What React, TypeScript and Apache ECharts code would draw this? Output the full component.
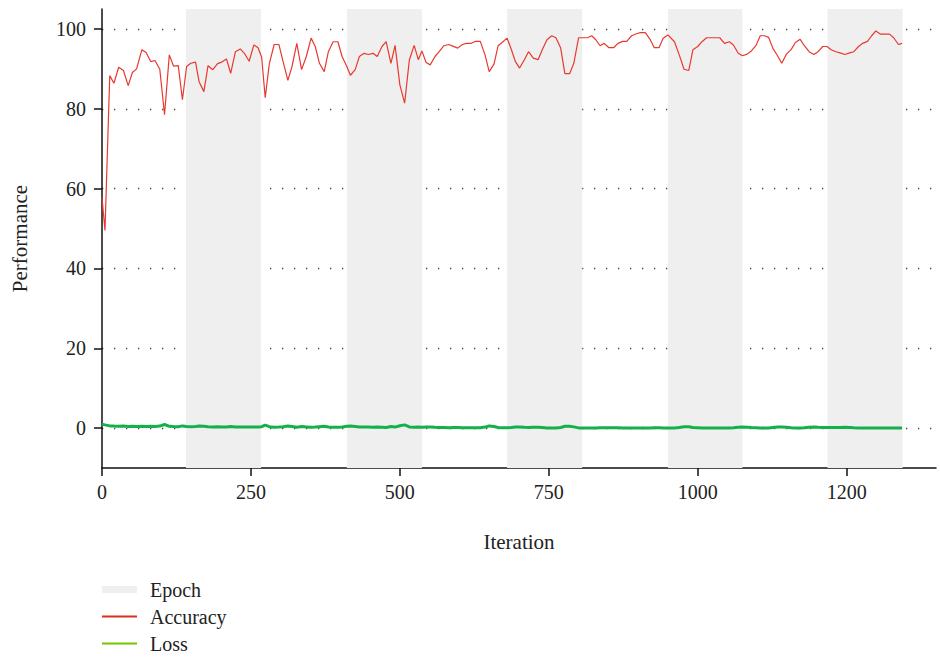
import React, { useEffect, useRef } from 'react';
import * as echarts from 'echarts';

const iterations = [
  0, 5, 13, 20, 28, 36, 44, 51, 58, 67,
  74, 82, 89, 97, 105, 113, 120, 128, 135, 142,
  149, 157, 163, 171, 178, 186, 194, 201, 209, 216,
  224, 232, 239, 247, 255, 262, 268, 274, 281, 289,
  297, 304, 312, 319, 327, 335, 343, 351, 358, 365,
  373, 380, 388, 396, 403, 411, 417, 425, 432, 440,
  447, 455, 462, 470, 477, 485, 492, 500, 508, 516,
  524, 531, 537, 544, 551, 559, 566, 574, 582, 589,
  597, 605, 612, 620, 627, 635, 643, 650, 658, 665,
  673, 680, 687, 694, 701, 709, 716, 724, 732, 739,
  747, 755, 762, 770, 777, 785, 792, 800, 808, 815,
  822, 829, 836, 843, 851, 859, 866, 874, 881, 889,
  897, 904, 912, 920, 927, 935, 942, 950, 961, 969,
  977, 985, 992, 1000, 1007, 1015, 1022, 1030, 1037, 1045,
  1053, 1060, 1068, 1075, 1083, 1090, 1098, 1105, 1112, 1119,
  1126, 1134, 1141, 1149, 1157, 1164, 1172, 1179, 1187, 1195,
  1202, 1210, 1217, 1224, 1232, 1239, 1247, 1255, 1262, 1270,
  1277, 1285, 1292, 1299, 1307, 1314, 1322, 1329, 1337, 1343,
];

const accuracy = [
  57.8, 49.5, 88.3, 86.4, 90.4, 89.6, 85.8, 89.1, 90.0, 94.8,
  94.1, 91.8, 92.1, 89.9, 78.5, 93.5, 90.7, 90.8, 82.3, 90.6,
  91.4, 91.7, 86.8, 84.3, 90.8, 89.8, 91.3, 91.7, 92.5, 88.9,
  94.3, 95.0, 93.9, 91.9, 96.0, 95.3, 92.9, 82.8, 91.4, 96.1,
  96.1, 91.8, 87.1, 90.6, 96.4, 89.8, 93.1, 97.7, 95.6, 91.4,
  89.3, 94.3, 96.8, 96.8, 93.1, 90.6, 88.4, 89.8, 93.1, 93.9,
  93.6, 93.9, 93.1, 95.6, 96.8, 91.4, 95.9, 86.0, 81.4, 92.3,
  95.9, 92.3, 94.5, 91.6, 91.0, 93.1, 94.3, 95.8, 96.1, 95.7,
  95.2, 96.1, 96.4, 96.4, 96.9, 96.9, 93.5, 89.3, 91.2, 95.8,
  96.8, 97.7, 94.9, 91.8, 90.2, 92.3, 94.3, 92.7, 92.3, 94.8,
  97.3, 98.3, 97.8, 95.2, 88.8, 88.8, 91.4, 97.8, 97.8, 97.8,
  98.3, 97.3, 95.8, 96.4, 95.3, 95.3, 96.4, 96.9, 96.9, 98.3,
  98.8, 99.1, 99.1, 97.4, 95.3, 95.3, 97.7, 98.5, 96.8, 93.5,
  89.9, 89.6, 94.8, 95.6, 96.8, 97.8, 97.8, 97.8, 97.8, 96.4,
  96.8, 96.0, 93.9, 93.3, 93.7, 94.5, 95.9, 98.3, 98.3, 97.9,
  95.2, 93.3, 91.4, 93.7, 94.9, 96.6, 97.4, 95.8, 94.3, 93.6,
  94.3, 95.6, 95.6, 94.8, 94.3, 94.0, 93.6, 94.0, 94.3, 95.6,
  96.4, 96.9, 98.3, 99.5, 98.7, 98.7, 98.7, 97.8, 96.1, 96.4,
];

const loss = [
  1.0, 0.8, 0.55, 0.5, 0.45, 0.5, 0.4, 0.45, 0.4, 0.45,
  0.4, 0.45, 0.4, 0.5, 0.9, 0.45, 0.4, 0.35, 0.55, 0.4,
  0.35, 0.4, 0.5, 0.45, 0.35, 0.3, 0.35, 0.3, 0.3, 0.4,
  0.3, 0.25, 0.3, 0.3, 0.25, 0.3, 0.35, 0.75, 0.35, 0.2,
  0.25, 0.35, 0.5, 0.4, 0.2, 0.4, 0.3, 0.2, 0.25, 0.35,
  0.45, 0.25, 0.2, 0.2, 0.3, 0.45, 0.5, 0.4, 0.3, 0.25,
  0.25, 0.2, 0.25, 0.2, 0.15, 0.4, 0.25, 0.6, 0.8, 0.3,
  0.2, 0.3, 0.2, 0.25, 0.3, 0.2, 0.15, 0.15, 0.1, 0.15,
  0.15, 0.1, 0.1, 0.1, 0.1, 0.1, 0.25, 0.55, 0.4, 0.15,
  0.1, 0.1, 0.15, 0.25, 0.3, 0.2, 0.15, 0.2, 0.2, 0.15,
  0.05, 0.05, 0.05, 0.15, 0.45, 0.45, 0.3, 0.05, 0.05, 0.05,
  0.05, 0.05, 0.1, 0.1, 0.1, 0.1, 0.1, 0.05, 0.05, 0.0,
  0.0, 0.0, 0.0, 0.05, 0.1, 0.1, 0.05, 0.0, 0.05, 0.15,
  0.35, 0.35, 0.15, 0.1, 0.05, 0.0, 0.0, 0.0, 0.0, 0.05,
  0.05, 0.1, 0.2, 0.25, 0.2, 0.15, 0.1, 0.0, 0.0, 0.05,
  0.15, 0.25, 0.3, 0.2, 0.1, 0.05, 0.05, 0.1, 0.2, 0.25,
  0.2, 0.15, 0.15, 0.15, 0.15, 0.15, 0.2, 0.15, 0.1, 0.05,
  0.05, 0.0, 0.0, 0.0, 0.0, 0.0, 0.0, 0.0, 0.05, 0.05,
];

const epochStart = [141, 411, 680, 950, 1218];
const epochEnd = [267, 537, 806, 1075, 1344];

const xTickValues = [0, 250, 500, 750, 1000, 1250];
const xTickLabels = ['0', '250', '500', '750', '1000', '1200'];
const yTickValues = [0, 20, 40, 60, 80, 100];

const FONT = 'Liberation Serif';

export default function App() {
  const ref = useRef<HTMLDivElement>(null);
  useEffect(() => {
    document.body.style.margin = '0';
    const chart = echarts.init(ref.current as HTMLDivElement, null, { renderer: 'svg' });
    chart.setOption({
      animation: false,
      textStyle: { fontFamily: FONT },
      grid: { left: 102, right: 4, top: 9, bottom: 190 },
      legend: {
        orient: 'vertical',
        left: 102,
        top: 579,
        padding: 0,
        itemWidth: 35,
        itemHeight: 7,
        itemGap: 6,
        textStyle: { fontFamily: FONT, fontSize: 20, color: '#222', padding: [0, 0, 0, 8], lineHeight: 21 },
        data: [
          { name: 'Epoch', icon: 'rect', itemStyle: { color: '#efefef' } },
          { name: 'Accuracy', icon: 'path://M0,0H35V2H0Z', itemStyle: { color: '#d7301f' } },
          { name: 'Loss', icon: 'path://M0,0H35V2H0Z', itemStyle: { color: '#72c400' } },
        ],
      },
      xAxis: {
        type: 'value',
        min: 0,
        max: 1400,
        name: 'Iteration',
        nameLocation: 'middle',
        nameGap: 63,
        nameTextStyle: { fontFamily: FONT, fontSize: 21, color: '#222' },
        axisLine: { onZero: false, lineStyle: { color: '#111', width: 1.5 } },
        axisTick: { customValues: xTickValues, length: 8, lineStyle: { color: '#111', width: 1.5 } },
        axisLabel: {
          customValues: xTickValues,
          margin: 14,
          fontFamily: FONT,
          fontSize: 20,
          color: '#222',
          formatter: (v: number) => xTickLabels[xTickValues.indexOf(v)] ?? '',
        },
        splitLine: { show: false },
      },
      yAxis: {
        type: 'value',
        min: -10,
        max: 105,
        name: 'Performance',
        nameLocation: 'middle',
        nameGap: 72,
        nameTextStyle: { fontFamily: FONT, fontSize: 21, color: '#222' },
        axisLine: { show: true, onZero: false, lineStyle: { color: '#111', width: 1.5 } },
        axisTick: { show: true, customValues: yTickValues, length: 8, lineStyle: { color: '#111', width: 1.5 } },
        axisLabel: { customValues: yTickValues, margin: 16, fontFamily: FONT, fontSize: 20, color: '#222' },
        splitLine: {
          show: true,
          lineStyle: { color: '#444', width: 1.3, type: [1.3, 10.7] },
        },
      },
      series: [
        {
          name: 'Epoch',
          type: 'line',
          data: [],
          itemStyle: { color: '#efefef' },
          markArea: {
            silent: true,
            itemStyle: { color: '#efefef', opacity: 1 },
            data: epochStart.map((s, i) => [{ xAxis: s }, { xAxis: epochEnd[i] }]),
          },
        },
        {
          name: 'Accuracy',
          type: 'line',
          showSymbol: false,
          data: iterations.map((x, i) => [x, accuracy[i]]),
          itemStyle: { color: '#d7301f' },
          lineStyle: { color: '#e8392f', width: 1.2 },
        },
        {
          name: 'Loss',
          type: 'line',
          showSymbol: false,
          data: iterations.map((x, i) => [x, loss[i]]),
          itemStyle: { color: '#72c400' },
          lineStyle: { color: '#13b04b', width: 3 },
        },
      ],
    });
    return () => chart.dispose();
  }, []);
  return <div ref={ref} style={{ width: 940, height: 658 }} />;
}
